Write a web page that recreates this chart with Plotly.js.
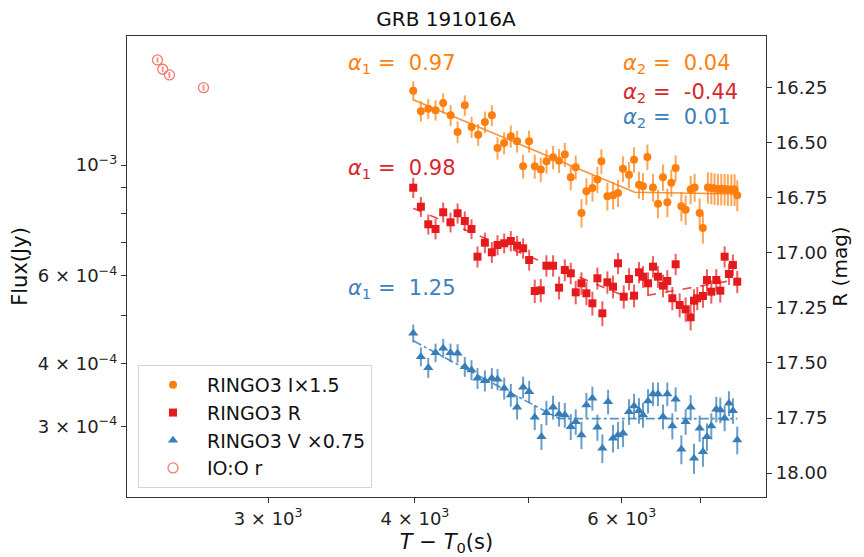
<!DOCTYPE html>
<html><head><meta charset="utf-8">
<script src="https://cdn.plot.ly/plotly-3.0.1.min.js"></script>
<style>html,body{margin:0;padding:0;background:#fff}#chart{width:864px;height:557px}</style>
</head><body><div id="chart"></div>
<script>
// ---- Data (time in s, flux in mJy) ----
const tI = [3987,4047,4106,4165,4228,4290,4349,4411,4470,4528,4588,4651,4703,4764,4827,4887,4945,5003,5059,5119,5177,5244,5306,5366,5429,5482,5544,5598,5665,5720,5765,5833,5898,5956,6014,6085,6145,6206,6255,6309,6378,6441,6504,6561,6612,6668,6743,6800,6867,6921,6989,7034,7103,7151,7197,7244,7292,7340,7387,7437,7485,7524];
const fluxI = [1.408,1.281,1.296,1.287,1.330,1.257,1.164,1.316,1.191,1.150,1.219,1.257,1.081,1.107,1.141,1.115,0.994,1.115,0.994,0.979,1.017,1.036,1.020,1.049,0.945,0.990,0.802,0.886,0.900,0.935,1.017,0.866,0.870,0.879,0.983,0.956,1.025,0.913,0.907,1.038,0.902,0.837,0.945,0.842,0.921,0.986,0.827,0.814,0.893,0.902,0.802,0.748,0.902,0.900,0.897,0.895,0.895,0.895,0.893,0.893,0.893,0.870];
const errI = [0.062,0.060,0.060,0.060,0.062,0.060,0.058,0.062,0.058,0.058,0.060,0.060,0.056,0.056,0.058,0.056,0.055,0.056,0.055,0.055,0.056,0.056,0.056,0.058,0.055,0.055,0.052,0.055,0.055,0.056,0.058,0.055,0.055,0.055,0.058,0.058,0.060,0.056,0.056,0.060,0.058,0.055,0.058,0.055,0.058,0.060,0.055,0.055,0.058,0.058,0.055,0.052,0.065,0.065,0.065,0.065,0.065,0.065,0.065,0.065,0.065,0.062];

const tR = [3987,4047,4106,4165,4228,4289,4349,4411,4469,4522,4588,4651,4703,4765,4827,4887,4945,5004,5059,5119,5176,5244,5306,5366,5429,5482,5544,5598,5664,5720,5776,5833,5898,5956,6023,6086,6146,6206,6255,6317,6379,6441,6505,6560,6625,6668,6721,6800,6867,6912,6957,7035,7090,7151,7221,7278,7340,7402,7460,7524];
const fluxR = [0.9007,0.8253,0.7610,0.7447,0.8043,0.7681,0.8006,0.7727,0.7447,0.6556,0.6992,0.6690,0.6918,0.6973,0.7047,0.6896,0.6814,0.6457,0.5598,0.5616,0.6289,0.6289,0.5684,0.6166,0.6073,0.5564,0.5800,0.5539,0.5289,0.5935,0.5051,0.5826,0.5710,0.6359,0.5453,0.5916,0.5478,0.6101,0.5979,0.5800,0.6261,0.5979,0.5736,0.5861,0.5413,0.6330,0.5248,0.5145,0.4959,0.5353,0.5413,0.5470,0.5889,0.5580,0.5889,0.5606,0.6556,0.6054,0.6310,0.5843];
const errR = [0.042,0.038,0.035,0.035,0.037,0.035,0.037,0.035,0.034,0.032,0.033,0.032,0.032,0.032,0.033,0.032,0.032,0.031,0.030,0.030,0.031,0.031,0.030,0.031,0.030,0.030,0.030,0.030,0.029,0.030,0.029,0.030,0.030,0.031,0.029,0.030,0.029,0.030,0.030,0.030,0.031,0.030,0.030,0.030,0.029,0.031,0.029,0.029,0.029,0.029,0.029,0.029,0.030,0.030,0.030,0.030,0.032,0.030,0.031,0.030];

const tV = [3987,4047,4106,4165,4228,4289,4349,4411,4469,4522,4588,4651,4703,4765,4827,4887,4945,5004,5059,5126,5176,5244,5306,5366,5429,5482,5544,5598,5664,5720,5776,5841,5898,5956,6015,6086,6146,6206,6255,6317,6379,6441,6505,6560,6625,6668,6743,6800,6867,6912,6989,7035,7090,7151,7221,7278,7340,7402,7460,7524];
const fluxV = [0.4607,0.4136,0.3932,0.4213,0.4300,0.4213,0.4202,0.3950,0.3891,0.3745,0.3704,0.3745,0.3727,0.3576,0.3468,0.3276,0.3593,0.3521,0.3129,0.2862,0.3196,0.3276,0.3177,0.3162,0.2997,0.3066,0.2884,0.3311,0.3415,0.2988,0.2713,0.3362,0.2841,0.2884,0.2907,0.3211,0.3296,0.3226,0.3162,0.3373,0.3483,0.3483,0.3138,0.3483,0.3006,0.3400,0.2700,0.3066,0.3276,0.2591,0.2974,0.2671,0.2862,0.3006,0.3247,0.3236,0.3115,0.3337,0.3226,0.2818];
const errV = [0.019,0.018,0.018,0.018,0.019,0.018,0.018,0.018,0.018,0.018,0.018,0.018,0.018,0.018,0.018,0.018,0.018,0.018,0.018,0.017,0.018,0.018,0.018,0.018,0.018,0.018,0.018,0.019,0.019,0.018,0.018,0.019,0.018,0.018,0.018,0.019,0.019,0.019,0.018,0.019,0.019,0.019,0.018,0.019,0.018,0.019,0.018,0.018,0.019,0.018,0.018,0.018,0.018,0.018,0.019,0.019,0.018,0.019,0.019,0.018];

const tO = [2415,2440,2472,2643];
const fluxO = [1.622,1.554,1.514,1.428];
const errO = [0.02,0.02,0.02,0.02];

// broken power-law fits (start, break, end)
const modelI_t = [3987,6154,7524], modelI_f = [1.351,0.882,0.875];
const modelR_t = [3987,6100,7524], modelR_f = [0.819,0.541,0.590];
const modelV_t = [3987,5306,7524], modelV_f = [0.445,0.311,0.311];

const seriesNames = ['RINGO3 I×1.5','RINGO3 R','RINGO3 V ×0.75','IO:O r'];
const alphaLabels = [
  {band:'I', idx:1, val:'0.97'}, {band:'R', idx:1, val:'0.98'}, {band:'V', idx:1, val:'1.25'},
  {band:'I', idx:2, val:'0.04'}, {band:'R', idx:2, val:'-0.44'}, {band:'V', idx:2, val:'0.01'}
];

const xTickVals = [3000,4000,6000];
const xTickText = ['3 × 10<sup>3</sup>','4 × 10<sup>3</sup>','6 × 10<sup>3</sup>'];
const xMinorVals = [5000,7000];
const yTickVals = [3e-4,4e-4,6e-4,1e-3];
const yTickText = ['3 × 10<sup>−4</sup>','4 × 10<sup>−4</sup>','6 × 10<sup>−4</sup>','10<sup>−3</sup>'];
const yMinorVals = [5e-4,7e-4,8e-4,9e-4];
const magTicks = [16.25,16.50,16.75,17.00,17.25,17.50,17.75,18.00];

// ---- styling ----
const toJy = a => a.map(v => v*1e-3);
const C = {I:'#ff7f0e', R:'#e41a1c', V:'#377eb8', O:'#f47a6e'};
const CE = {I:'rgba(255,127,14,0.7)', R:'rgba(228,26,28,0.7)', V:'rgba(55,126,184,0.75)', O:'rgba(244,122,110,0.8)'};

function pts(t,f,e,name,col,ecol,sym,size,extra){
  return Object.assign({
    x:t, y:toJy(f), type:'scatter', mode:'markers', name:name,
    marker:{color:col, symbol:sym, size:size},
    error_y:{type:'data', array:toJy(e), visible:true, color:ecol, thickness:2, width:0},
    hoverinfo:'skip'
  }, extra||{});
}
function model(t,f,col,dash){
  return {x:t, y:toJy(f), type:'scatter', mode:'lines', showlegend:false,
    line:{color:col, width:1.6, dash:dash}, hoverinfo:'skip'};
}

const traces = [
  model(modelI_t, modelI_f, 'rgba(255,127,14,0.85)', 'solid'),
  model(modelR_t, modelR_f, 'rgba(228,26,28,0.8)', 'dash'),
  model(modelV_t, modelV_f, 'rgba(55,126,184,0.85)', 'dashdot'),
  pts(tI, fluxI, errI, seriesNames[0], C.I, CE.I, 'circle', 8),
  pts(tR, fluxR, errR, seriesNames[1], C.R, CE.R, 'square', 8),
  pts(tV, fluxV, errV, seriesNames[2], C.V, CE.V, 'triangle-up', 9),
  pts(tO, fluxO, errO, seriesNames[3], C.O, CE.O, 'circle-open', 10, {marker:{color:C.O, symbol:'circle-open', size:10, line:{width:1.3, color:C.O}}}),
  // invisible helper so the right-hand magnitude axis is drawn
  {x:[tR[0], tR[0]], y:[magTicks[0], magTicks[magTicks.length-1]], yaxis:'y2', type:'scatter', mode:'markers',
   marker:{opacity:0, size:1}, showlegend:false, hoverinfo:'skip'}
];

const bandColor = {I:'#ff7f0e', R:'#d9262b', V:'#3d80bd'};
const pos = {
  'I1':{x:346,y:64,anchor:'left'}, 'R1':{x:346,y:169,anchor:'left'}, 'V1':{x:346,y:289,anchor:'left'},
  'I2':{x:621,y:64,anchor:'left'}, 'R2':{x:621,y:93,anchor:'left'}, 'V2':{x:621,y:118,anchor:'left'}
};
const L=127,R=766,T=36,B=497;
const annotations = alphaLabels.map(a => {
  const p = pos[a.band+a.idx];
  return {xref:'paper', yref:'paper', x:(p.x-L)/(R-L), y:(B-p.y)/(B-T), xanchor:p.anchor, yanchor:'middle',
    text:'<i>α</i><sub>'+a.idx+'</sub> = &nbsp;'+a.val, showarrow:false,
    font:{size:21, color:bandColor[a.band], family:'DejaVu Sans'}};
});

const axisCommon = {ticks:'outside', ticklen:5, tickwidth:1, tickcolor:'#333', showline:true, linecolor:'#333', linewidth:1.2, showgrid:false, zeroline:false, tickfont:{size:18, color:'#222'}};

const layout = {
  width:864, height:557,
  margin:{l:L, r:864-R, t:T, b:557-B},
  paper_bgcolor:'#ffffff', plot_bgcolor:'#ffffff',
  font:{family:'DejaVu Sans, sans-serif', size:17, color:'#222'},
  title:{text:'GRB 191016A', font:{size:20, color:'#111'}, x:446/864, xanchor:'center', y:1-19/557, yref:'container', yanchor:'middle'},
  showlegend:true,
  xaxis:Object.assign({}, axisCommon, {type:'log', range:[Math.log10(2275), Math.log10(7960)], tickmode:'array', tickvals:xTickVals, ticktext:xTickText, mirror:true,
    minor:{tickmode:'array', tickvals:xMinorVals, ticks:'outside', ticklen:5, tickcolor:'#333', showgrid:false},
    title:{text:'<i>T</i> − <i>T</i><sub>0</sub>(s)', font:{size:21, color:'#111'}, standoff:6}}),
  yaxis:Object.assign({}, axisCommon, {type:'log', range:[-3.664,-2.742], tickmode:'array', tickvals:yTickVals, ticktext:yTickText,
    minor:{tickmode:'array', tickvals:yMinorVals, ticks:'outside', ticklen:5, tickcolor:'#333', showgrid:false},
    title:{text:'Flux(Jy)', font:{size:21, color:'#111'}, standoff:4}}),
  yaxis2:Object.assign({}, axisCommon, {overlaying:'y', side:'right', anchor:'x', range:[18.109,16.014], tickmode:'array', tickvals:magTicks, tickformat:'.2f',
    title:{text:'R (mag)', font:{size:20, color:'#111'}, standoff:6}}),
  legend:{x:(138-L)/(R-L), y:(B-365)/(B-T), xanchor:'left', yanchor:'top', bgcolor:'#ffffff', bordercolor:'#d4d4d4', borderwidth:1,
    font:{size:19, color:'#111'}, itemwidth:58, tracegroupgap:0},
  annotations:annotations
};

Plotly.newPlot('chart', traces, layout, {staticPlot:true, displayModeBar:false});
</script></body></html>
